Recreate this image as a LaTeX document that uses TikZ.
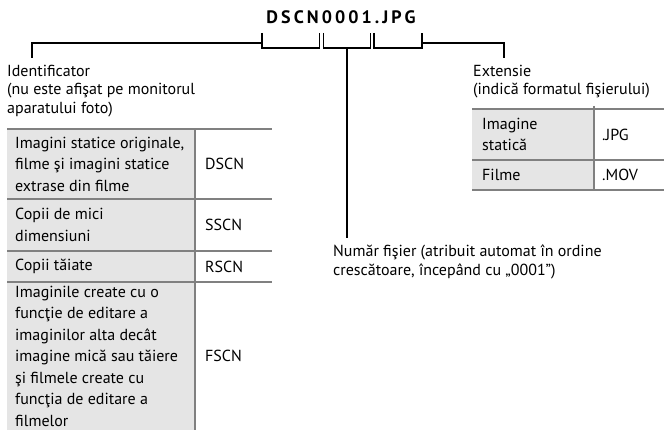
\documentclass[tikz,border=0pt]{standalone}
\usepackage{fontspec}
\setmainfont{PT Sans}
\usetikzlibrary{positioning}
\definecolor{rulegray}{gray}{0.5}
\definecolor{cellgray}{gray}{0.9}

\begin{document}
\begin{tikzpicture}[x=1pt,y=-1pt, every node/.style={font=\fontsize{16}{18.3}\selectfont,inner sep=0pt},
 lbl/.style={anchor=north west,align=left},
 cell/.style={anchor=west,align=left,font=\fontsize{16}{21.5}\selectfont},
 brk/.style={line width=1.4pt},
 tbl/.style={draw=rulegray,line width=2.6pt}]
\useasboundingbox (0,0) rectangle (664,430);
\node[font=\fontsize{18}{20}\selectfont\bfseries\addfontfeature{LetterSpace=17}] (fname) at (341,17) {DSCN0001.JPG};
% brackets under the name parts
\foreach \a/\b/\n in {262/319.5/pid,323.5/370.5/pnum,374/422/pext}{
  \draw[brk] (\a,33) -- (\a,48) -- (\b,48) -- (\b,33);
  \coordinate (\n) at ({(\a+\b)/2},48);}
\coordinate (idjoin) at (262,43);
\coordinate (extjoin) at (422,43);
% labels
\node[lbl] (ident) at (7,65) {Identificator\\(nu este afişat pe monitorul\\aparatului foto)};
\node[lbl] (extn) at (473,65) {Extensie\\(indică formatul fişierului)};
\node[lbl] (numr) at (333,245) {Număr fişier (atribuit automat în ordine\\crescătoare, începând cu „0001”)};
\coordinate (idend) at (32,58);
\coordinate (extend) at (504,58);
\coordinate (numend) at (pnum|-0,238);
\draw[brk] (idjoin) -| (idend);
\draw[brk] (extjoin) -| (extend);
\draw[brk] (pnum) -- (numend);
% prefix table
\fill[cellgray] (7,129) rectangle (195,432);
\foreach \y in {129,199,251,282}{\draw[tbl] (7,\y) -- (272,\y);}
\draw[tbl] (195,129) -- (195,432);
\node[cell] (c1) at (15,164) {Imagini statice originale,\\filme şi imagini statice\\extrase din filme};
\node[cell] (c2) at (15,225) {Copii de mici\\dimensiuni};
\node[cell] (c3) at (15,266.5) {Copii tăiate};
\node[cell] (c4) at (15,356) {Imaginile create cu o\\funcţie de editare a\\imaginilor alta decât\\imagine mică sau tăiere\\şi filmele create cu\\funcţia de editare a\\filmelor};
\node[cell] (k1) at (205,164) {DSCN};
\node[cell] (k2) at (205,225) {SSCN};
\node[cell] (k3) at (205,266.5) {RSCN};
\node[cell] (k4) at (205,356) {FSCN};
% extension table
\fill[cellgray] (472,109) rectangle (594,190);
\foreach \y in {109,160,190}{\draw[tbl] (472,\y) -- (664,\y);}
\draw[tbl] (594,106) -- (594,190);
\node[cell] (e1) at (482,134.5) {Imagine\\statică};
\node[cell] (e2) at (482,175) {Filme};
\node[cell] (x1) at (602,134.5) {.JPG};
\node[cell] (x2) at (602,175) {.MOV};
\end{tikzpicture}
\end{document}
